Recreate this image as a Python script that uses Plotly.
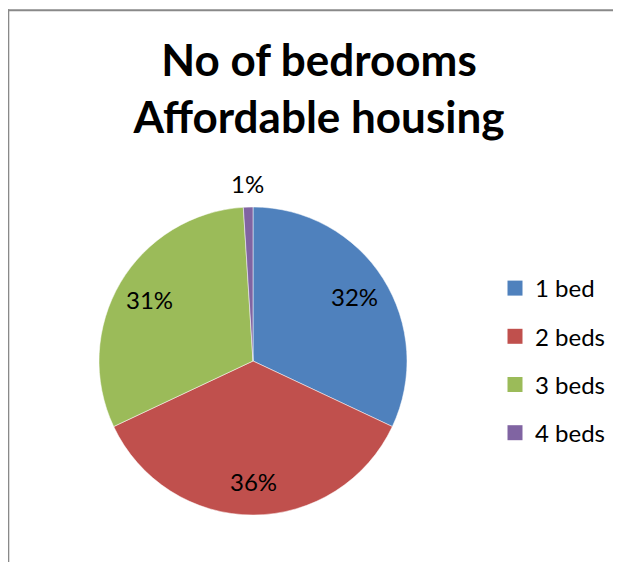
import math
import plotly.graph_objects as go

# ---- data ----
categories = ["1 bed", "2 beds", "3 beds", "4 beds"]
values = [32, 36, 31, 1]
colors = ["#4F81BD", "#C0504D", "#9BBB59", "#8064A2"]
title_lines = ["No of bedrooms", "Affordable housing"]

# page has an 8px body margin, so the figure is 8px smaller and offset
OFF = 8
FW, FH = 621 - OFF, 562 - OFF
FONT = "Lato, Calibri, Carlito, sans-serif"


def px(x):  # page pixel -> paper x
    return (x - OFF) / FW


def py(y):  # page pixel -> paper y
    return 1 - (y - OFF) / FH


# pie placement (page pixels)
cx, cy, R = 253, 361, 154
dom_x = [px(cx - R), px(cx + R)]
dom_y = [py(cy + R), py(cy - R)]

fig = go.Figure()

fig.add_trace(go.Pie(
    labels=categories,
    values=values,
    sort=False,
    direction="clockwise",
    rotation=0,
    marker=dict(colors=colors, line=dict(color="white", width=0.5)),
    textinfo="none",
    showlegend=False,
    hoverinfo="label+percent",
    domain=dict(x=dom_x, y=dom_y),
))

# data labels placed along each slice bisector (Excel "best fit" look)
total = sum(values)
cum = 0
annotations = []
for v in values:
    frac = v / total
    mid = 2 * math.pi * (cum + v / 2) / total
    cum += v
    f = 0.78 if frac > 0.05 else 1.15
    lx = cx + R * f * math.sin(mid)
    ly = cy - R * f * math.cos(mid)
    annotations.append(dict(
        x=px(lx), y=py(ly), xref="paper", yref="paper",
        text=f"{round(frac * 100)}%", showarrow=False,
        xanchor="center", yanchor="middle",
        font=dict(family=FONT, size=24, color="black"),
    ))

# legend entries (one group each so spacing can be controlled)
for lab, col in zip(categories, colors):
    fig.add_trace(go.Scatter(
        x=[None], y=[None], mode="markers", name=lab,
        marker=dict(symbol="square", size=15, color=col),
        legendgroup=lab, showlegend=True,
    ))

border = dict(color="#898989", width=2)
fig.update_layout(
    width=FW, height=FH,
    margin=dict(l=0, r=0, t=0, b=0),
    paper_bgcolor="white", plot_bgcolor="white",
    font=dict(family=FONT, color="black"),
    title=dict(
        text="<b>" + "<br>".join(title_lines) + "</b>",
        x=px(319), xanchor="center",
        y=py(76), yanchor="middle",
        font=dict(family=FONT, size=44, color="black"),
    ),
    xaxis=dict(visible=False), yaxis=dict(visible=False),
    legend=dict(
        x=px(495), xanchor="left",
        y=py(266), yanchor="top",
        font=dict(family=FONT, size=24, color="black"),
        tracegroupgap=14,
        bgcolor="rgba(0,0,0,0)",
    ),
    annotations=annotations,
    shapes=[
        dict(type="line", xref="paper", yref="paper",
             x0=px(8.3), x1=px(8.3), y0=py(9.3), y1=py(600), line=border),
        dict(type="line", xref="paper", yref="paper",
             x0=px(7.3), x1=px(640), y0=py(10.3), y1=py(10.3), line=border),
    ],
)

fig.write_html("out.html")
